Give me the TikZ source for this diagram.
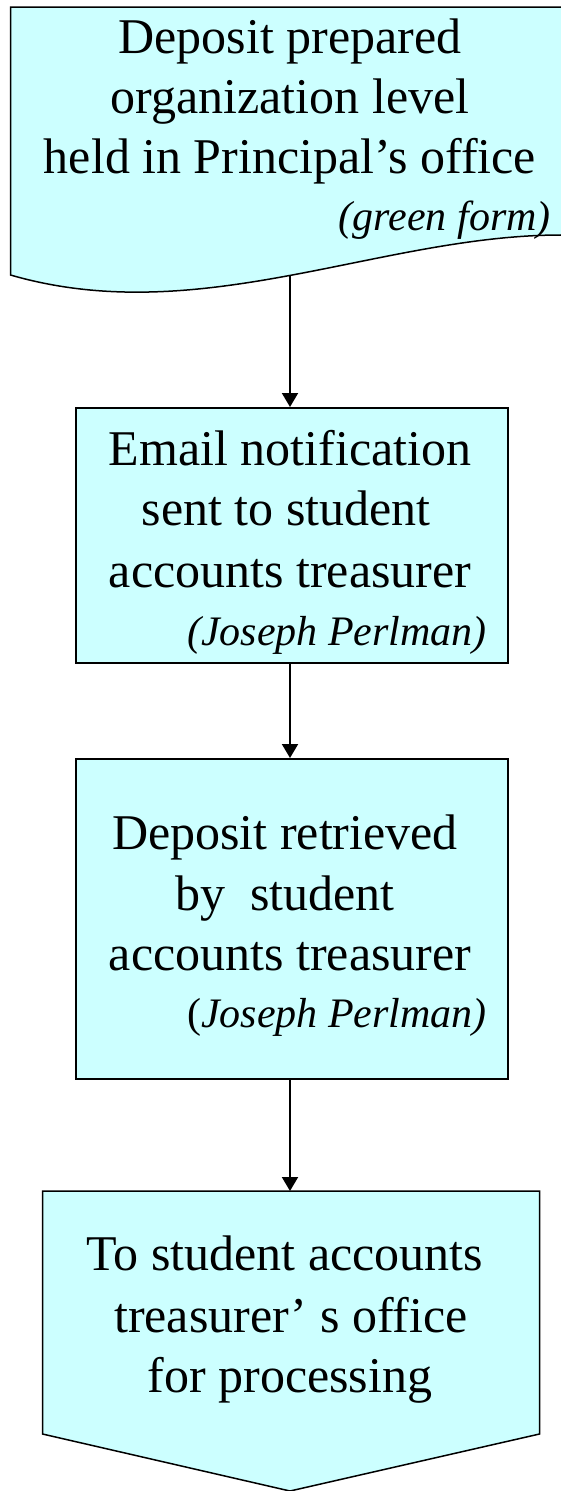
\documentclass[tikz,border=0pt]{standalone}
\usepackage{fontspec}
\setmainfont{Liberation Serif}
\usetikzlibrary{arrows.meta}
\definecolor{boxfill}{HTML}{CCFFFF}
\tikzset{
  shapeline/.style={draw=black, line width=1.5pt, fill=boxfill},
  procbox/.style={shapeline, rectangle, inner sep=0pt, anchor=north west},
  mainline/.style={font=\fontsize{50}{60}\selectfont, inner sep=0pt, anchor=base},
  noteline/.style={font=\fontsize{42}{50}\selectfont\itshape, inner sep=0pt, anchor=base east},
  flow/.style={draw=black, line width=2pt, -{Triangle[width=16pt,length=14pt]}}
}
\begin{document}
\begin{tikzpicture}[x=1pt,y=-1pt]
\useasboundingbox (0,0) rectangle (561,1491);
% document shape (cut off at right edge)
\draw[shapeline] (10.5,7) -- (570,7) -- (570,234) -- (561,235)
   .. controls (380,235) and (200,330) .. (10.5,275) -- cycle;
\coordinate (docbot) at (290,276);
\node[mainline] (d1) at (290,53) {Deposit prepared};
\node[mainline] (d2) at (290,113) {organization level};
\node[mainline] (d3) at (290,173) {held in Principal’s office};
\node[noteline] (d4) at (551,230) {(green form)};
% box 2
\node[procbox, minimum width=432pt, minimum height=255pt] (email) at (75,407) {};
\node[mainline] (e1) at (290,465) {Email notification};
\node[mainline] (e2) at (286,525) {sent to student};
\node[mainline] (e3) at (290,587) {accounts treasurer};
\node[noteline] (e4) at (487,645) {(Joseph Perlman)};
% box 3
\node[procbox, minimum width=432pt, minimum height=320pt] (retr) at (75,758) {};
\node[mainline] (r1) at (285,849) {Deposit retrieved};
\node[mainline] (r2) at (285,910) {by\ \ student};
\node[mainline] (r3) at (290,970) {accounts treasurer};
\node[noteline] (r4) at (487,1027) {{\upshape(}Joseph Perlman)};
% off-page connector
\coordinate (pentop) at (290,1191);
\draw[shapeline] (42.5,1191) -- (539.5,1191) -- (539.5,1434) -- (290,1491) -- (42.5,1434) -- cycle;
\node[mainline] (p1) at (285,1270) {To student accounts};
\node[mainline] (p2) at (291,1332) {treasurer’ s office};
\node[mainline] (p3) at (290,1392) {for processing};
% connectors
\draw[flow] (docbot) -- (email.north -| docbot);
\draw[flow] (email.south -| docbot) -- (retr.north -| docbot);
\draw[flow] (retr.south -| docbot) -- (pentop);
\end{tikzpicture}
\end{document}
